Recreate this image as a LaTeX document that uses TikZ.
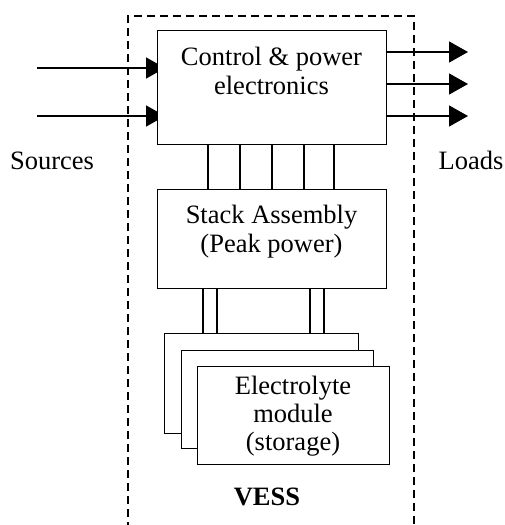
\documentclass[tikz,border=0pt]{standalone}
\usepackage{fontspec}
\setmainfont{Liberation Serif}
\usetikzlibrary{arrows.meta}
\pgfdeclarelayer{background}
\pgfsetlayers{background,main}
\begin{document}
\begin{tikzpicture}[x=1pt,y=-1pt,
  lw/.style={line width=1.4pt},
  blk/.style={draw,lw,fill=white,inner sep=0pt,anchor=north west},
  txt/.style={inner sep=0pt,align=center,anchor=base,font=\fontsize{26.5}{29}\selectfont},
  flow/.style={lw,-{Triangle[length=19pt,width=21pt]}},
  vess/.style={line width=2pt,dash pattern=on 8pt off 5pt}]
\useasboundingbox (0,0) rectangle (505,525);
% dashed enclosure
\coordinate (dbl) at (128,530);
\coordinate (dtl) at (128,16);
\coordinate (dtr) at (414,16);
\coordinate (dbr) at (414,530);
\draw[vess] (dbl) -- (dtl) -- (dtr) -- (dbr);
% blocks
\node[blk,minimum width=229pt,minimum height=114pt] (ctrl) at (157,30) {};
\node[blk,minimum width=229pt,minimum height=99pt] (stack) at (157,189) {};
\node[blk,minimum width=194pt,minimum height=100pt] (m3) at (164,333) {};
\node[blk,minimum width=192pt,minimum height=98pt] (m2) at (181,350) {};
\node[blk,minimum width=192pt,minimum height=98pt] (m1) at (197,366) {};
% texts (base anchor = baseline of last line)
\node[txt] (ctrltxt) at (271.5,94) {Control \& power\\electronics};
\node[txt] (stacktxt) at (271.5,252) {Stack Assembly\\(Peak power)};
\node[txt,font=\fontsize{26.5}{28}\selectfont] (m1txt) at (293,450) {Electrolyte\\module\\(storage)};
\node[txt,font=\fontsize{26.5}{29}\selectfont\bfseries] (vesstxt) at (267,505) {VESS};
\node[txt] (src) at (52,169) {Sources};
\node[txt] (lds) at (471,169) {Loads};
% input arrows
\coordinate (i1) at (37,68);
\coordinate (i2) at (37,116);
\begin{pgfonlayer}{background}
\draw[flow,shorten >=-8pt] (i1) -- (i1 -| ctrl.west);
\draw[flow,shorten >=-8pt] (i2) -- (i2 -| ctrl.west);
\end{pgfonlayer}
% output arrows
\coordinate (o1) at (468,52);
\coordinate (o2) at (468,84);
\coordinate (o3) at (468,116);
\draw[flow] (o1 -| ctrl.east) -- (o1);
\draw[flow] (o2 -| ctrl.east) -- (o2);
\draw[flow] (o3 -| ctrl.east) -- (o3);
% bus lines between control and stack
\foreach \x [count=\i] in {208,240,272,304,334}{
  \coordinate (b\i) at (\x,0);
  \draw[lw] (b\i |- ctrl.south) -- (b\i |- stack.north);
}
% pipes between stack and modules
\foreach \x [count=\i] in {203,217,310,324}{
  \coordinate (p\i) at (\x,0);
  \draw[lw] (p\i |- stack.south) -- (p\i |- m3.north);
}
\end{tikzpicture}
\end{document}
